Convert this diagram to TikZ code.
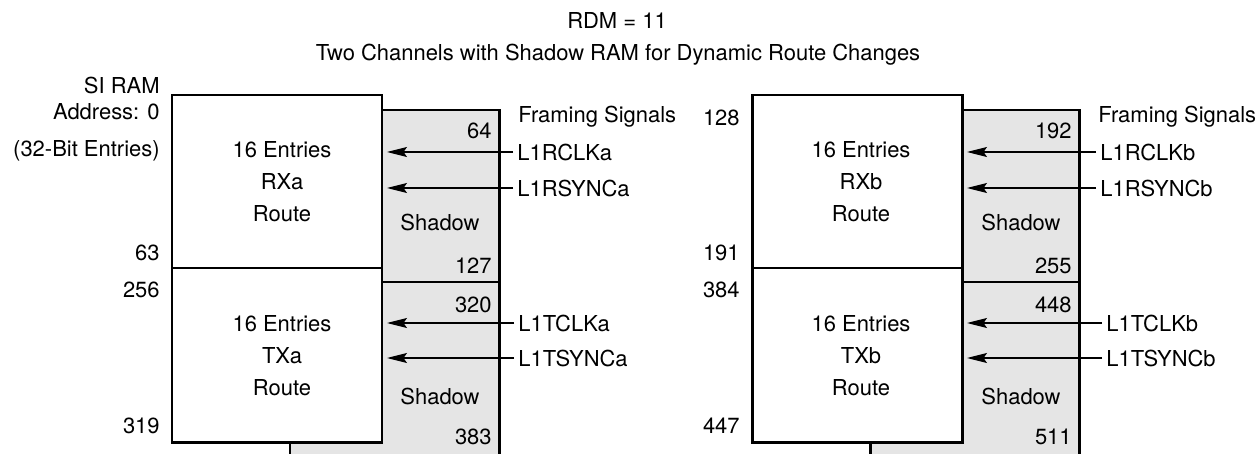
\documentclass[tikz,border=0pt]{standalone}
\usepackage{fontspec}
\setmainfont{TeX Gyre Heros}
\usetikzlibrary{positioning,arrows.meta}
\definecolor{shadowgray}{RGB}{229,229,229}
\tikzset{lbl/.style={font=\fontsize{12.5}{15}\selectfont, inner sep=0pt},
  addr/.style={lbl, anchor=base east},
  sigtext/.style={lbl, anchor=base west},
  frame/.style={line width=1.7pt},
  divider/.style={line width=0.6pt}}

\begin{document}
\begin{tikzpicture}[x=0.02cm, y=-0.02cm, >={Stealth[length=4mm,width=2mm,inset=0.7mm]}]
		\useasboundingbox (0,0) rectangle (1260,453);
		\clip (0,0) rectangle (1260,453);

		% Title
		\node[lbl, anchor=base] (RDM) at (617,29) {RDM = 11};
		\node[lbl, anchor=base] (title) at (618,60) {Two Channels with Shadow RAM for Dynamic Route Changes};

		% Channel a: shadow RAM behind route RAM
		\filldraw[frame, fill=shadowgray] (290,110) rectangle (499,490);
		\draw[divider] (290,282) -- (499,282);
		\filldraw[frame, fill=white] (172,95) rectangle (382,442);
		\draw[divider] (172,268) -- (382,268);
		\coordinate (a-edge) at (387,0);

		\node[addr] (SI) at (160,93) {SI RAM};
		\node[addr] (a-0) at (160,119) {Address: 0};
		\node[addr] (bits) at (160,156) {(32-Bit Entries)};
		\node[addr] (a-63) at (160,260) {63};
		\node[addr] (a-256) at (160,297) {256};
		\node[addr] (a-319) at (160,433) {319};

		\node[lbl, anchor=base] (RXa-1) at (282,157) {16 Entries};
		\node[lbl, anchor=base] (RXa-2) at (282,189) {RXa};
		\node[lbl, anchor=base] (RXa-3) at (282,221) {Route};
		\node[lbl, anchor=base] (TXa-1) at (282,331) {16 Entries};
		\node[lbl, anchor=base] (TXa-2) at (282,363) {TXa};
		\node[lbl, anchor=base] (TXa-3) at (282,395) {Route};

		\node[lbl, anchor=base east] (a-64) at (492,138) {64};
		\node[lbl, anchor=base east] (a-127) at (492,273) {127};
		\node[lbl, anchor=base east] (a-320) at (492,312) {320};
		\node[lbl, anchor=base east] (a-383) at (492,444) {383};
		\node[lbl, anchor=base] (a-shadow1) at (440,230) {Shadow};
		\node[lbl, anchor=base] (a-shadow2) at (440,404) {Shadow};

		% Framing signals a
		\node[sigtext] (a-framing) at (518,122) {Framing Signals};
		\node[sigtext] (RCLKa) at (517,160) {L1RCLKa};
		\node[sigtext] (RSYNCa) at (517,196) {L1RSYNCa};
		\node[sigtext] (TCLKa) at (518,331) {L1TCLKa};
		\node[sigtext] (TSYNCa) at (518,366) {L1TSYNCa};
		\draw[->, line width=0.6pt, shorten <=0.08cm] (RCLKa.west) -- (RCLKa.west -| a-edge);
		\draw[->, line width=0.6pt, shorten <=0.08cm] (RSYNCa.west) -- (RSYNCa.west -| a-edge);
		\draw[->, line width=0.6pt, shorten <=0.08cm] (TCLKa.west) -- (TCLKa.west -| a-edge);
		\draw[->, line width=0.6pt, shorten <=0.08cm] (TSYNCa.west) -- (TSYNCa.west -| a-edge);

		% Channel b: shadow RAM behind route RAM
		\filldraw[frame, fill=shadowgray] (870,110) rectangle (1079,490);
		\draw[divider] (870,282) -- (1079,282);
		\filldraw[frame, fill=white] (752,95) rectangle (962,442);
		\draw[divider] (752,268) -- (962,268);
		\coordinate (b-edge) at (967,0);

		\node[addr] (b-128) at (740,125) {128};
		\node[addr] (b-191) at (740,260) {191};
		\node[addr] (b-384) at (740,297) {384};
		\node[addr] (b-447) at (740,433) {447};

		\node[lbl, anchor=base] (RXb-1) at (861,157) {16 Entries};
		\node[lbl, anchor=base] (RXb-2) at (861,189) {RXb};
		\node[lbl, anchor=base] (RXb-3) at (861,221) {Route};
		\node[lbl, anchor=base] (TXb-1) at (861,331) {16 Entries};
		\node[lbl, anchor=base] (TXb-2) at (861,363) {TXb};
		\node[lbl, anchor=base] (TXb-3) at (861,395) {Route};

		\node[lbl, anchor=base east] (b-192) at (1072,138) {192};
		\node[lbl, anchor=base east] (b-255) at (1072,273) {255};
		\node[lbl, anchor=base east] (b-448) at (1072,312) {448};
		\node[lbl, anchor=base east] (b-511) at (1072,444) {511};
		\node[lbl, anchor=base] (b-shadow1) at (1021,230) {Shadow};
		\node[lbl, anchor=base] (b-shadow2) at (1021,404) {Shadow};

		% Framing signals b
		\node[sigtext] (b-framing) at (1098,122) {Framing Signals};
		\node[sigtext] (RCLKb) at (1100,160) {L1RCLKb};
		\node[sigtext] (RSYNCb) at (1100,196) {L1RSYNCb};
		\node[sigtext] (TCLKb) at (1106,331) {L1TCLKb};
		\node[sigtext] (TSYNCb) at (1106,366) {L1TSYNCb};
		\draw[->, line width=0.6pt, shorten <=0.08cm] (RCLKb.west) -- (RCLKb.west -| b-edge);
		\draw[->, line width=0.6pt, shorten <=0.08cm] (RSYNCb.west) -- (RSYNCb.west -| b-edge);
		\draw[->, line width=0.6pt, shorten <=0.08cm] (TCLKb.west) -- (TCLKb.west -| b-edge);
		\draw[->, line width=0.6pt, shorten <=0.08cm] (TSYNCb.west) -- (TSYNCb.west -| b-edge);

	\end{tikzpicture}
\end{document}
